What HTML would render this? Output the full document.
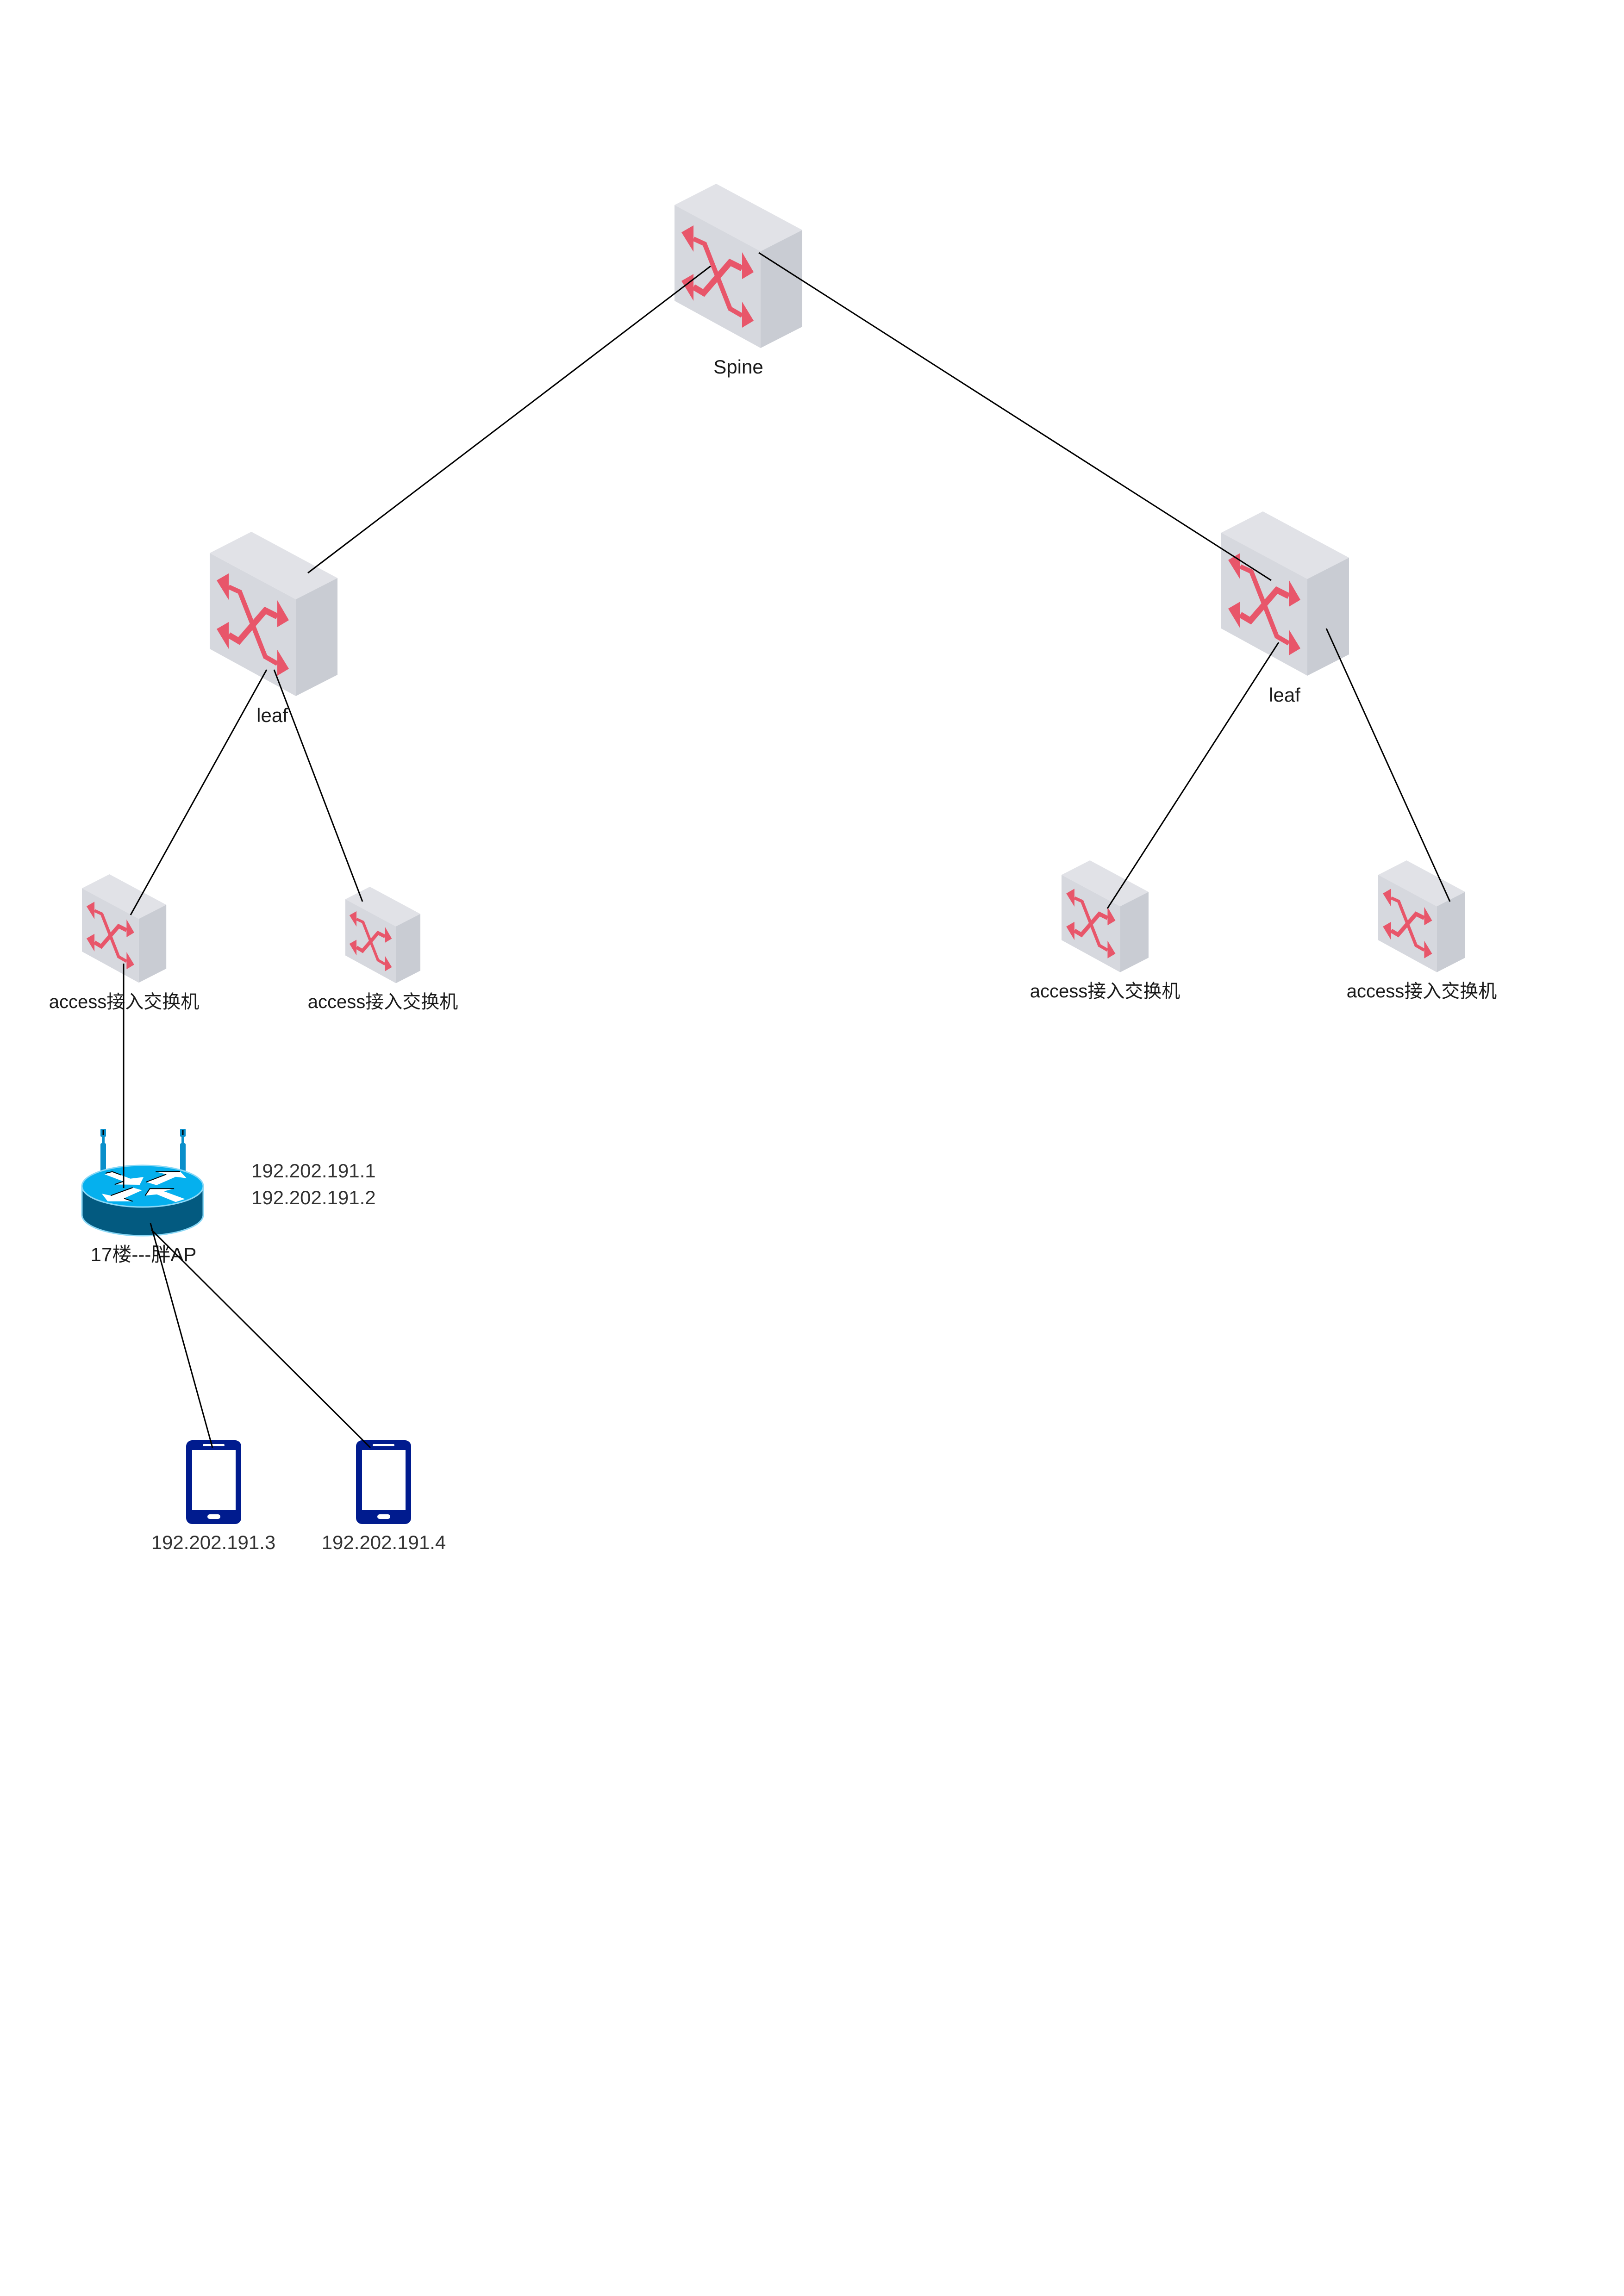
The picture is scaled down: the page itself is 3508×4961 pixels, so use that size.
<!DOCTYPE html>
<html>
<head>
<meta charset="utf-8">
<style>
  html, body { margin: 0; padding: 0; background: #ffffff; }
  svg { display: block; }
  text { font-family: "Liberation Sans", "Noto Sans CJK SC", sans-serif; }
</style>
</head>
<body>
<svg width="3508" height="4961" viewBox="0 0 3508 4961" xmlns="http://www.w3.org/2000/svg">
  <defs>
    <g id="sw">
      <polygon points="90,0 276,100 186,146 0,46" fill="#e1e2e7"/>
      <polygon points="0,46 186,146 186,355 0,253" fill="#d6d8de"/>
      <polygon points="186,146 276,100 276,309 186,355" fill="#c9ccd3"/>
      <polyline points="41,119 65,130 120,270 146,285" fill="none" stroke="#e8566a" stroke-width="10" stroke-linejoin="miter"/>
      <polygon points="15,105 41,90 41,147" fill="#e8566a"/>
      <polygon points="171,296 146,255 146,311" fill="#e8566a"/>
      <polyline points="41,223 63,236 120,170 146,183" fill="none" stroke="#e8566a" stroke-width="13" stroke-linejoin="miter"/>
      <polygon points="15,210 41,195 41,253" fill="#e8566a"/>
      <polygon points="171,191 146,148 146,206" fill="#e8566a"/>
    </g>
  </defs>

  <rect x="0" y="0" width="3508" height="4961" fill="#ffffff"/>

  <!-- switches -->
  <use href="#sw" transform="translate(1457,397)"/>
  <use href="#sw" transform="translate(453,1149)"/>
  <use href="#sw" transform="translate(2638,1105)"/>
  <use href="#sw" transform="translate(177,1889) scale(0.66)"/>
  <use href="#sw" transform="translate(746,1916) scale(0.587)"/>
  <use href="#sw" transform="translate(2293,1859) scale(0.681)"/>
  <use href="#sw" transform="translate(2977,1859) scale(0.681)"/>

  <!-- AP antennas -->
  <g fill="#0a8fca">
    <rect x="217" y="2470" width="12" height="70" rx="3"/>
    <rect x="220" y="2452" width="6" height="22"/>
    <rect x="217" y="2439" width="12" height="17" rx="2"/>
    <rect x="389" y="2470" width="12" height="70" rx="3"/>
    <rect x="392" y="2452" width="6" height="22"/>
    <rect x="389" y="2439" width="12" height="17" rx="2"/>
  </g>
  <rect x="221.5" y="2442" width="3" height="10" fill="#000"/>
  <rect x="393.5" y="2442" width="3" height="10" fill="#000"/>

  <!-- AP body -->
  <path d="M177,2563 L177,2625 A131,45 0 0 0 439,2625 L439,2563 Z" fill="#035a80" stroke="#8ad8f6" stroke-width="3"/>
  <ellipse cx="308" cy="2563" rx="131" ry="45" fill="#05b0ee" stroke="#8ad8f6" stroke-width="3"/>
  <g fill="#ffffff">
    <polygon points="225.7,2537.3 242.6,2531.7 281.5,2546.7 310.2,2543.3 301.8,2560 247.7,2559.3 266.3,2552.7"/>
    <polygon points="315.9,2554 359.2,2537.3 336.2,2531.7 388.9,2531 403.1,2545.7 379.5,2542.7 338.2,2560.7"/>
    <polygon points="220,2579.3 239.3,2583.3 286.6,2566 306.8,2571.7 268,2589.3 286.6,2595.7 232.5,2595.7"/>
    <polygon points="313.6,2583.3 323.7,2568.3 376.1,2568.3 354.1,2574 399.7,2590.7 379.5,2597.3 338.9,2580.7"/>
  </g>
  <g stroke="#000000" stroke-width="2" fill="none">
    <polyline points="228,2535 242.6,2531.7 262,2539"/>
    <line x1="247.7" y1="2559.3" x2="266.3" y2="2552.7"/>
    <polyline points="315.9,2554 359.2,2537.3"/>
    <line x1="336.2" y1="2531.7" x2="388.9" y2="2531"/>
    <line x1="239.3" y1="2583.3" x2="286.6" y2="2566"/>
    <line x1="268" y1="2589.3" x2="286.6" y2="2595.7"/>
    <polyline points="313.6,2583.3 323.7,2568.3 376.1,2568.3"/>
  </g>

  <!-- phones -->
  <g>
    <rect x="402" y="3112" width="119" height="181" rx="13" fill="#001b8e"/>
    <rect x="415" y="3133" width="94" height="130" fill="#ffffff"/>
    <rect x="438" y="3120" width="47" height="5" rx="2.5" fill="#ffffff"/>
    <rect x="448" y="3272" width="28" height="10" rx="5" fill="#ffffff"/>
  </g>
  <g>
    <rect x="769" y="3112" width="119" height="181" rx="13" fill="#001b8e"/>
    <rect x="782" y="3133" width="94" height="130" fill="#ffffff"/>
    <rect x="805" y="3120" width="47" height="5" rx="2.5" fill="#ffffff"/>
    <rect x="815" y="3272" width="28" height="10" rx="5" fill="#ffffff"/>
  </g>

  <!-- labels -->
  <g fill="#1a1a1a">
    <text x="1595" y="807" font-size="42" text-anchor="middle">Spine</text>
    <text x="588" y="1560" font-size="42" text-anchor="middle">leaf</text>
    <text x="2775" y="1516" font-size="42" text-anchor="middle">leaf</text>
    <text x="268" y="2178" font-size="40" text-anchor="middle">access接入交换机</text>
    <text x="827" y="2178" font-size="40" text-anchor="middle">access接入交换机</text>
    <text x="2387" y="2155" font-size="40" text-anchor="middle">access接入交换机</text>
    <text x="3071" y="2155" font-size="40" text-anchor="middle">access接入交换机</text>
    <text x="310" y="2725" font-size="42" text-anchor="middle">17楼---胖AP</text>
  </g>
  <g fill="#333333">
    <text x="543" y="2544" font-size="42">192.202.191.1</text>
    <text x="543" y="2602" font-size="42">192.202.191.2</text>
    <text x="461" y="3347" font-size="42" text-anchor="middle">192.202.191.3</text>
    <text x="829" y="3347" font-size="42" text-anchor="middle">192.202.191.4</text>
  </g>

  <!-- connectors -->
  <g stroke="#000000" stroke-width="3" fill="none">
    <line x1="1535" y1="575" x2="665" y2="1238"/>
    <line x1="1639" y1="546" x2="2746" y2="1254"/>
    <line x1="576" y1="1447" x2="282" y2="1977"/>
    <line x1="592" y1="1447" x2="783" y2="1948"/>
    <line x1="2762" y1="1388" x2="2392" y2="1963"/>
    <line x1="2865" y1="1358" x2="3132" y2="1948"/>
    <line x1="267" y1="2082" x2="267" y2="2567"/>
    <line x1="325" y1="2643" x2="459" y2="3128"/>
    <line x1="327" y1="2657" x2="800" y2="3128"/>
  </g>
</svg>
</body>
</html>
